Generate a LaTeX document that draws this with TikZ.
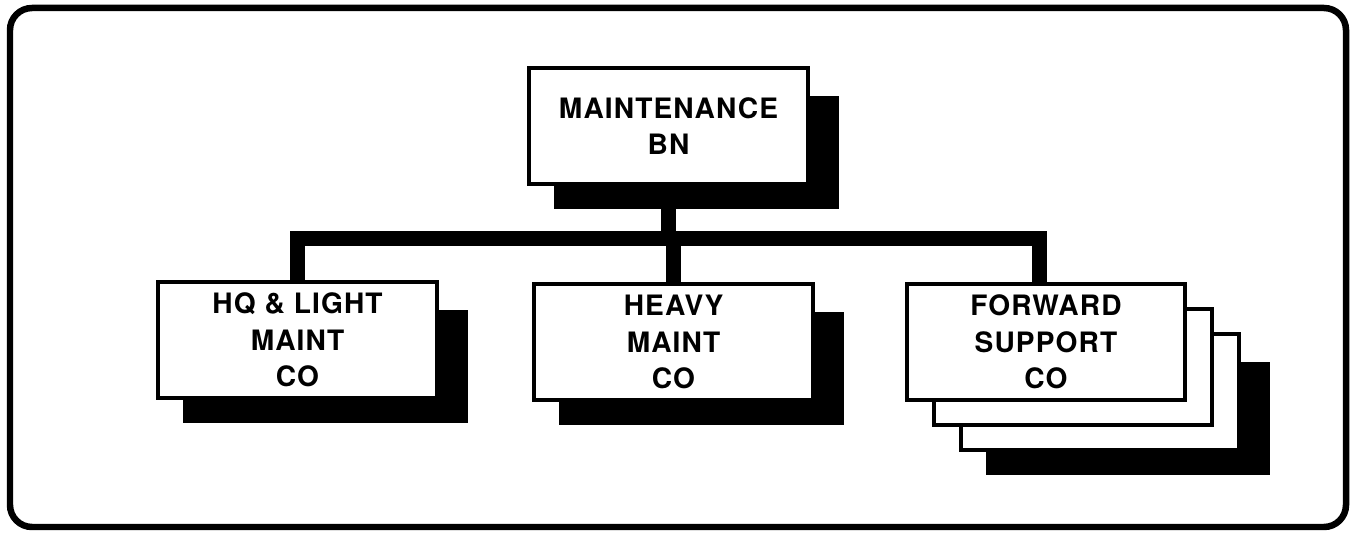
\documentclass[tikz,border=0pt]{standalone}
\usepackage{fontspec}
\newfontfamily\orgfont[LetterSpace=4]{TeX Gyre Heros}
\usepackage{tikz}
\usetikzlibrary{calc,backgrounds}

\begin{document}
\begin{tikzpicture}[
x=0.02cm,
y=-0.02cm,
unit/.style={
draw,
line width=0.08cm,
fill=white,
minimum width=5.58cm,
minimum height=2.32cm,
inner sep=0pt,
align=center,
font=\orgfont\bfseries\fontsize{16}{20.7}\selectfont
},
link/.style={
line width=0.3cm,
line join=miter
},
frame/.style={
line width=0.13cm,
rounded corners=0.44cm
}
]

\useasboundingbox (0,0) rectangle (1356,533);

%%%%%%%%%%%%%%%%%%%%%%%%%%%%%%%%%%%%
% Frame
%%%%%%%%%%%%%%%%%%%%%%%%%%%%%%%%%%%%

\draw[frame] (10,8) rectangle (1346,527);

%%%%%%%%%%%%%%%%%%%%%%%%%%%%%%%%%%%%
% Units
%%%%%%%%%%%%%%%%%%%%%%%%%%%%%%%%%%%%

\node[unit] (bn) at (668.5,126)
{MAINTENANCE\\BN};

\node[unit] (hq) at (297.5,340)
{HQ \& LIGHT\\MAINT\\CO};

\node[unit] (heavy) at (673.5,342)
{HEAVY\\MAINT\\CO};

\node[unit] (fsc3) at (1100,392) {};

\node[unit] (fsc2) at (1073,367) {};

\node[unit] (fsc) at (1046,342)
{FORWARD\\SUPPORT\\CO};

%%%%%%%%%%%%%%%%%%%%%%%%%%%%%%%%%%%%
% Shadows and connections
%%%%%%%%%%%%%%%%%%%%%%%%%%%%%%%%%%%%

\coordinate (bus) at (670,238.5);
\coordinate (fscdrop) at ($(fsc.north)+(-7,0)$);

\begin{scope}[on background layer]
\foreach \b in {bn,hq,heavy,fsc3}
\fill ($(\b.south west)+(27,23)$) rectangle ($(\b.north east)+(29,30)$);

\draw[link] (bn.south |- bus) -- (bn.south);

\draw[link] (hq.north) |- (bus) -| (fscdrop);

\draw[link] (heavy.north |- bus) -- (heavy.north);
\end{scope}

\end{tikzpicture}
\end{document}
